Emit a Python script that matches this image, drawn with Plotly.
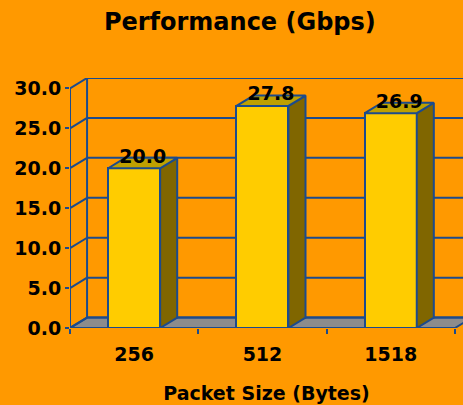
import plotly.graph_objects as go

# ---- data ----
categories = ["256", "512", "1518"]
values = [20.0, 27.8, 26.9]
y_ticks = [0, 5, 10, 15, 20, 25, 30]
title_text = "Performance (Gbps)"
x_title = "Packet Size (Bytes)"

# ---- style ----
BG = "#FF9900"
FRONT = "#FFCC00"
SIDE = "#806600"
TOP = "#BFA000"
FLOOR = "#8C8C8C"
LINE = "#1C4B8C"
FONT = "DejaVu Sans"
LW = 2

bar_w = 0.405
dx = 0.133   # depth offset in x units
dy = 1.3     # depth offset in y units
x_lo, x_hi = -0.5, 2.563
n = len(categories)
xs = list(range(n))

fig = go.Figure()

# front faces
fig.add_trace(go.Bar(
    x=xs, y=values, width=bar_w,
    marker=dict(color=FRONT, line=dict(color=LINE, width=LW)),
    hoverinfo="skip", showlegend=False,
))

# side and top faces
for i, v in enumerate(values):
    x0 = i - bar_w / 2
    x1 = i + bar_w / 2
    fig.add_trace(go.Scatter(
        x=[x1, x1 + dx, x1 + dx, x1, x1],
        y=[0, dy, v + dy, v, 0],
        fill="toself", fillcolor=SIDE, mode="lines",
        line=dict(color=LINE, width=LW), hoverinfo="skip", showlegend=False,
    ))
    fig.add_trace(go.Scatter(
        x=[x0, x0 + dx, x1 + dx, x1, x0],
        y=[v, v + dy, v + dy, v, v],
        fill="toself", fillcolor=TOP, mode="lines",
        line=dict(color=LINE, width=LW), hoverinfo="skip", showlegend=False,
    ))

# value labels
fig.add_trace(go.Scatter(
    x=[i + dx / 2 for i in xs], y=[v + dy for v in values],
    mode="text", text=[f"{v:.1f}" for v in values],
    textposition="middle center",
    textfont=dict(family=FONT, size=19, color="black", weight="bold"),
    hoverinfo="skip", showlegend=False, cliponaxis=False,
))

shapes = []
# floor
shapes.append(dict(
    type="path", xref="x", yref="y", layer="below",
    path=f"M {x_lo},0 L {x_lo+dx},{dy} L {n-0.5+dx},{dy} L {n-0.5},0 Z",
    fillcolor=FLOOR, line=dict(color=LINE, width=LW),
))
# back wall gridlines and left wall diagonals
for t in y_ticks:
    shapes.append(dict(type="line", xref="x", yref="y", layer="below",
                       x0=x_lo + dx, y0=t + dy, x1=x_hi + 0.2, y1=t + dy,
                       line=dict(color=LINE, width=LW)))
    shapes.append(dict(type="line", xref="x", yref="y", layer="below",
                       x0=x_lo, y0=t, x1=x_lo + dx, y1=t + dy,
                       line=dict(color=LINE, width=LW)))
# left wall back vertical
shapes.append(dict(type="line", xref="x", yref="y", layer="below",
                   x0=x_lo + dx, y0=dy, x1=x_lo + dx, y1=y_ticks[-1] + dy,
                   line=dict(color=LINE, width=LW)))
# front axis lines
shapes.append(dict(type="line", xref="x", yref="y", layer="below",
                   x0=x_lo, y0=0, x1=x_lo, y1=y_ticks[-1],
                   line=dict(color=LINE, width=LW)))
shapes.append(dict(type="line", xref="x", yref="y", layer="below",
                   x0=x_lo, y0=0, x1=n - 0.5, y1=0,
                   line=dict(color=LINE, width=LW)))

fig.update_layout(
    width=463, height=405,
    paper_bgcolor=BG, plot_bgcolor=BG,
    margin=dict(l=70, r=0, t=78, b=77),
    shapes=shapes,
    title=dict(text=title_text, x=0.518, xanchor="center", xref="container",
               y=1 - 22 / 405, yanchor="middle", yref="container",
               font=dict(family=FONT, size=24, color="black", weight="bold")),
    xaxis=dict(
        range=[x_lo, x_hi], showgrid=False, zeroline=False, showline=False,
        tickmode="array", tickvals=xs, ticktext=categories, ticks="",
        ticklabelstandoff=13,
        tickfont=dict(family=FONT, size=19, color="black", weight="bold"),
        minor=dict(tickmode="array", tickvals=[x_lo, 0.5, 1.5, 2.5],
                   ticks="outside", ticklen=5, tickwidth=LW, tickcolor=LINE,
                   showgrid=False),
        title=dict(text=x_title, standoff=22,
                   font=dict(family=FONT, size=19, color="black", weight="bold")),
    ),
    yaxis=dict(
        range=[0, y_ticks[-1] + dy], showgrid=False, zeroline=False, showline=False,
        tickmode="array", tickvals=y_ticks, ticktext=[f"{t:.1f}" for t in y_ticks],
        ticks="outside", ticklen=4, tickwidth=LW, tickcolor=LINE,
        tickfont=dict(family=FONT, size=19, color="black", weight="bold"),
    ),
    bargap=0,
)

fig.write_html("out.html", config={"displayModeBar": False},
               post_script="document.body.style.margin='0';")
